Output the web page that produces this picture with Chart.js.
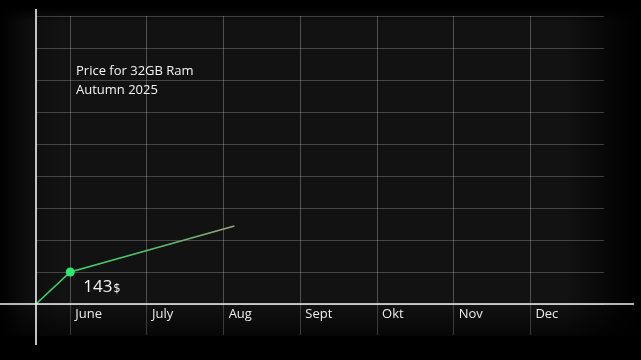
<!DOCTYPE html>
<html>
<head>
<meta charset="utf-8">
<script src="https://cdn.jsdelivr.net/npm/chart.js@4"></script>
<style>
html,body{margin:0;padding:0;background:#000;}
#wrap{width:641px;height:360px;position:relative;}
</style>
</head>
<body>
<div id="wrap"><canvas id="c" width="641" height="360"></canvas></div>
<script>
// ---- data ----
const monthLabels = ['June', 'July', 'Aug', 'Sept', 'Okt', 'Nov', 'Dec'];
const monthPositions = [1, 2, 3, 4, 5, 6, 7];
const pointX = [0.553, 1, 3.14];      // origin, June, current (just past Aug)
const priceValues = [0, 143, 349];    // USD
const markedIndex = 1;                // the highlighted point (June)
const titleLines = ['Price for 32GB Ram', 'Autumn 2025'];
const yStep = 143;
const ySteps = 9;
const xMin = 0.553, xMax = 7.96;

const dataPoints = pointX.map((x, i) => ({ x: x, y: priceValues[i] }));

const FONT = '"Open Sans", "Noto Sans", sans-serif';

const decor = {
  id: 'decor',
  beforeDraw(chart) {
    const ctx = chart.ctx, a = chart.chartArea;
    ctx.save();
    ctx.fillStyle = '#000';
    ctx.fillRect(0, 0, chart.width, chart.height);
    // dark panel with soft edges
    const g = ctx.createLinearGradient(0, 0, chart.width, 0);
    g.addColorStop(0, '#000');
    g.addColorStop(0.04, '#0d0d0d');
    g.addColorStop(0.1, '#121212');
    g.addColorStop(0.88, '#121212');
    g.addColorStop(0.96, '#050505');
    g.addColorStop(1, '#000');
    ctx.fillStyle = g;
    ctx.fillRect(0, a.top - 8, chart.width, a.bottom - a.top + 40);
    const gv = ctx.createLinearGradient(0, a.top - 8, 0, a.bottom + 50);
    gv.addColorStop(0, 'rgba(0,0,0,1)');
    gv.addColorStop(0.04, 'rgba(0,0,0,0)');
    gv.addColorStop(0.85, 'rgba(0,0,0,0)');
    gv.addColorStop(1, 'rgba(0,0,0,1)');
    ctx.fillStyle = gv;
    ctx.fillRect(0, a.top - 8, chart.width, a.bottom - a.top + 58);
    ctx.restore();
  },
  afterDatasetsDraw(chart) {
    const ctx = chart.ctx, a = chart.chartArea;
    const xs = chart.scales.x, ys = chart.scales.y;
    const ox = xs.getPixelForValue(xMin), oy = ys.getPixelForValue(0);
    ctx.save();
    ctx.strokeStyle = '#f2f2f2';
    ctx.lineWidth = 1.6;
    ctx.beginPath();
    ctx.moveTo(0, oy); ctx.lineTo(chart.width - 7, oy);
    ctx.moveTo(ox, a.top - 7); ctx.lineTo(ox, a.bottom + 41);
    ctx.stroke();
    // title text
    ctx.fillStyle = '#f4f4f4';
    ctx.font = '13px ' + FONT;
    ctx.textBaseline = 'alphabetic';
    ctx.textAlign = 'left';
    titleLines.forEach((t, i) => ctx.fillText(t, 76, 75 + i * 19));
    // value label
    const meta = chart.getDatasetMeta(0).data[markedIndex];
    ctx.font = '17px ' + FONT;
    const s = String(priceValues[markedIndex]);
    const lx = meta.x + 13, ly = meta.y + 20;
    ctx.fillText(s, lx, ly);
    const w = ctx.measureText(s).width;
    ctx.font = '12px ' + FONT;
    ctx.fillText('$', lx + w + 1, ly + 1);
    ctx.restore();
  }
};

new Chart(document.getElementById('c'), {
  type: 'line',
  data: {
    datasets: [{
      data: dataPoints,
      borderColor(ctx) {
        const c = ctx.chart, a = c.chartArea;
        if (!a) return '#3ecf6c';
        const xs = c.scales.x;
        const g = c.ctx.createLinearGradient(xs.getPixelForValue(pointX[0]), 0, xs.getPixelForValue(pointX[pointX.length - 1]), 0);
        g.addColorStop(0, '#39d46c');
        g.addColorStop(0.35, '#44cc6e');
        g.addColorStop(0.7, '#62b46e');
        g.addColorStop(1, '#98a47e');
        return g;
      },
      borderWidth: 1.6,
      tension: 0,
      pointRadius: ctx => ctx.dataIndex === markedIndex ? 4.5 : 0,
      pointHoverRadius: 0,
      pointBackgroundColor: '#2ee872',
      pointBorderColor: '#2ee872',
      pointBorderWidth: 0,
      clip: false
    }]
  },
  options: {
    responsive: false,
    animation: false,
    events: [],
    layout: { padding: { left: 36, right: 37, top: 16, bottom: 0 } },
    plugins: { legend: { display: false }, tooltip: { enabled: false }, title: { display: false } },
    scales: {
      x: {
        type: 'linear',
        min: xMin,
        max: xMax,
        afterBuildTicks(scale) { scale.ticks = monthPositions.map(v => ({ value: v })); },
        afterFit(scale) { scale.height = 56; },
        border: { display: false },
        grid: {
          color: 'rgba(255,255,255,0.26)',
          lineWidth: 1,
          drawTicks: true,
          tickLength: 31,
          tickColor: 'rgba(255,255,255,0.2)'
        },
        ticks: {
          autoSkip: false,
          maxRotation: 0,
          align: 'start',
          labelOffset: 5,
          padding: -29,
          color: '#ececec',
          font: { family: FONT, size: 13 },
          callback: (v) => monthLabels[monthPositions.indexOf(v)] || ''
        }
      },
      y: {
        min: 0,
        max: yStep * ySteps,
        afterFit(scale) { scale.width = 0; },
        border: { display: false },
        grid: { color: 'rgba(255,255,255,0.22)', lineWidth: 1, drawTicks: false },
        ticks: { display: false, stepSize: yStep }
      }
    }
  },
  plugins: [decor]
});
</script>
</body>
</html>
